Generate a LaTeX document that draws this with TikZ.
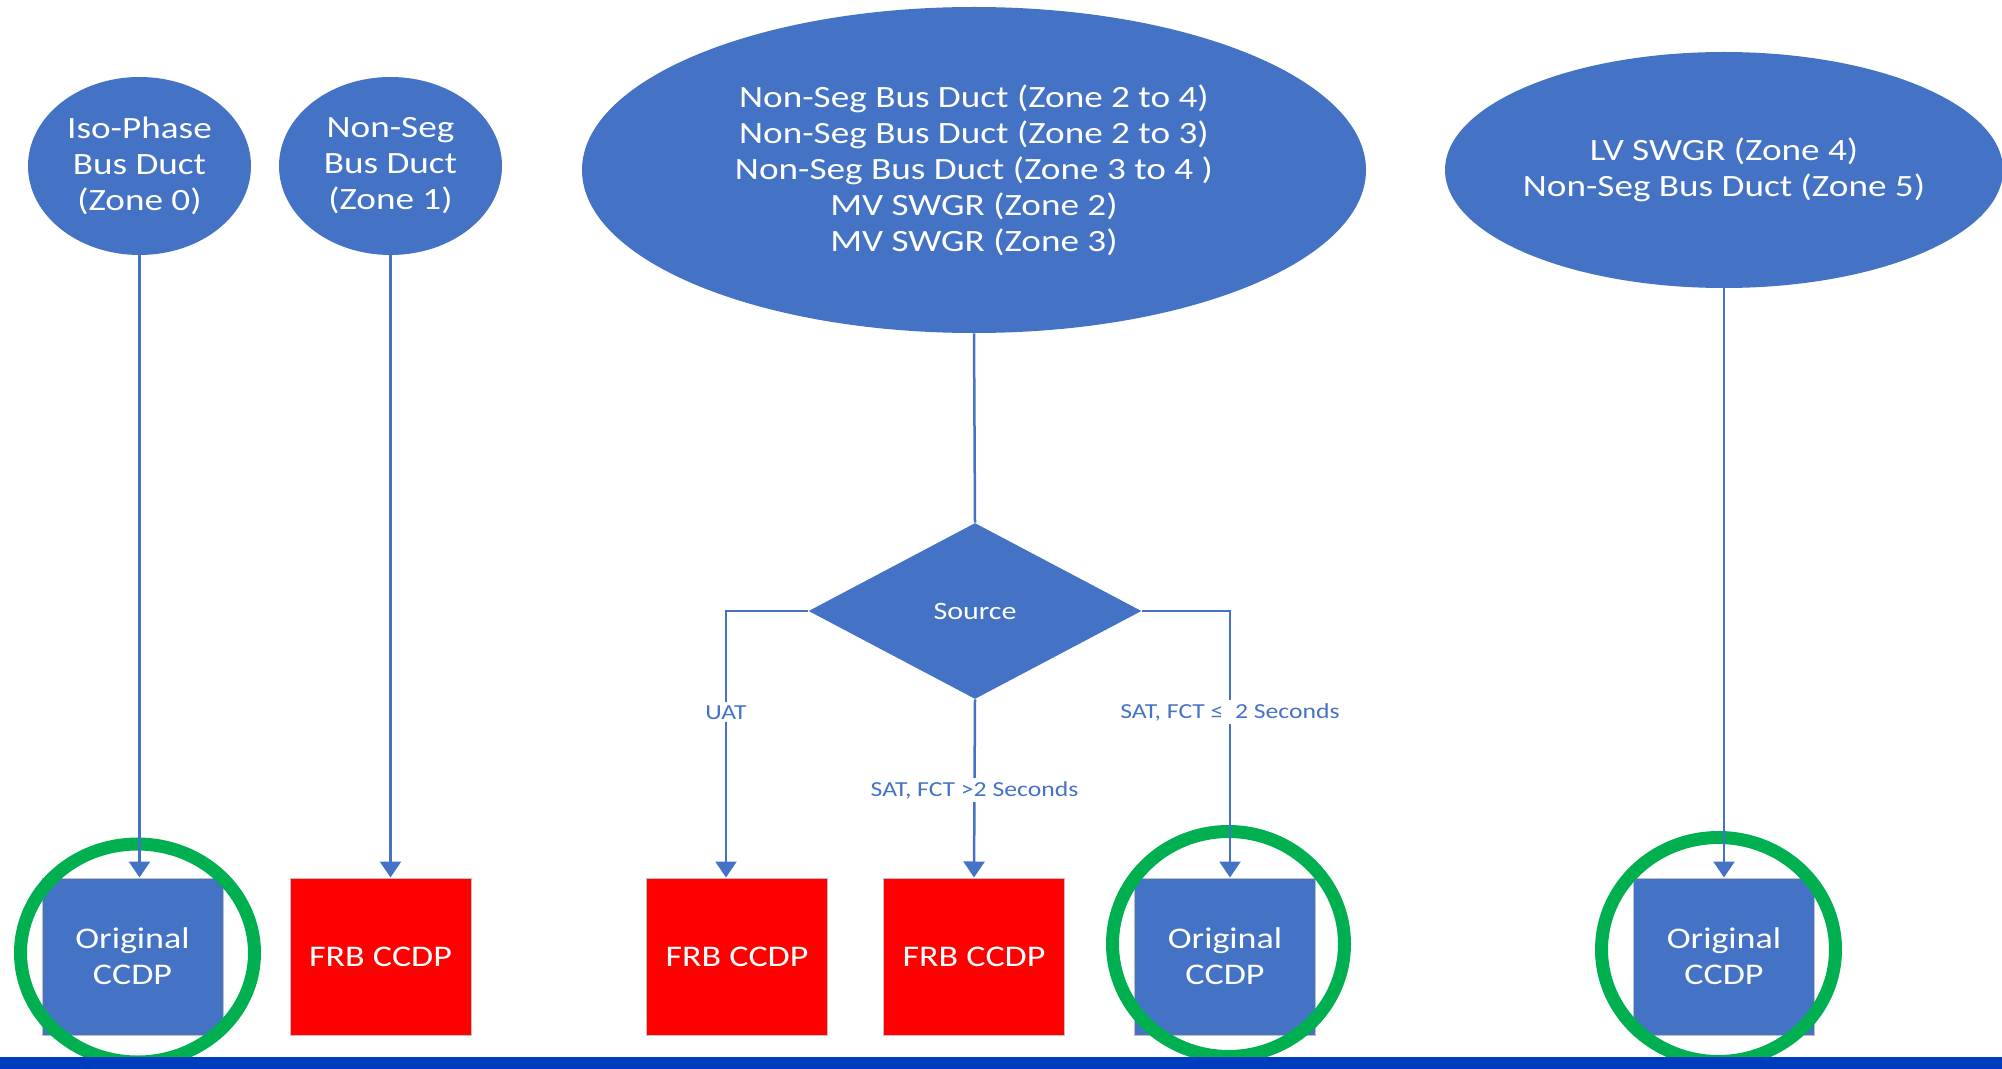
\documentclass[tikz,border=0pt]{standalone}
\usepackage{fontspec}
\setmainfont{Carlito}[FakeStretch=1.2]
\usetikzlibrary{shapes.geometric,arrows.meta}
\definecolor{zoneblue}{RGB}{68,114,196}
\definecolor{frbred}{RGB}{255,0,0}
\definecolor{okgreen}{RGB}{0,176,80}
\definecolor{barblue}{RGB}{0,60,190}
\tikzset{
 zone/.style={ellipse,fill=zoneblue,inner sep=0pt},
 zonetext/.style={text=white,align=center,font=\fontsize{15.5}{18}\selectfont},
 ccdp/.style={rectangle,fill=zoneblue,draw=black!25,line width=0.5pt,minimum width=90.5pt,minimum height=78.5pt,inner sep=0pt,text=white,align=center,font=\fontsize{15}{18}\selectfont},
 frb/.style={ccdp,fill=frbred},
 flow/.style={draw=zoneblue,line width=1.25pt},
 arr/.style={flow,-{Triangle[width=10.5pt,length=8pt]}},
 lbl/.style={fill=white,text=zoneblue,inner sep=1.5pt,font=\fontsize{10.7}{12}\selectfont},
 ring/.style={draw=okgreen,line width=6.5pt}
}
\begin{document}
\begin{tikzpicture}[x=0.5pt,y=-0.5pt]
 \useasboundingbox (0,0) rectangle (2002,1069);
 \node[zone,minimum width=111.5pt,minimum height=89pt,label={[zonetext]center:{Iso-Phase\\Bus Duct\\(Zone 0)}}] (iso) at (139.5,166) {};
 \node[zone,minimum width=111.5pt,minimum height=89pt,label={[zonetext]center:{Non-Seg\\Bus Duct\\(Zone 1)}}] (seg1) at (390.5,166) {};
 \node[zone,minimum width=392pt,minimum height=163pt,label={[zonetext]center:{Non-Seg Bus Duct (Zone 2 to 4)\\Non-Seg Bus Duct (Zone 2 to 3)\\Non-Seg Bus Duct (Zone 3 to 4 )\\MV SWGR (Zone 2)\\MV SWGR (Zone 3)}}] (mid) at (974,170) {};
 \node[zone,minimum width=279pt,minimum height=118pt,label={[zonetext]center:{LV SWGR (Zone 4)\\Non-Seg Bus Duct (Zone 5)}}] (lv) at (1724,170) {};
 \node[diamond,fill=zoneblue,aspect=1.89,minimum width=166.5pt,minimum height=88pt,inner sep=0pt,text=white,font=\fontsize{12.5}{15}\selectfont] (src) at (975,611) {Source};
 \node[ccdp] (b1) at (132.5,956.5) {Original\\CCDP};
 \node[frb] (b2) at (380.5,956.5) {FRB CCDP};
 \node[frb] (b3) at (737,956.5) {FRB CCDP};
 \node[frb] (b4) at (974,956.5) {FRB CCDP};
 \node[ccdp] (b5) at (1225,956.5) {Original\\CCDP};
 \node[ccdp] (b6) at (1724,956.5) {Original\\CCDP};
 \draw[ring] (137.5,953) ellipse [x radius=117,y radius=109];
 \draw[ring] (1228.5,944) ellipse [x radius=116,y radius=112.5];
 \draw[ring] (1718.5,949.5) ellipse [x radius=117,y radius=112];
 \draw[arr] (iso.south) -- (iso.south |- b1.north);
 \draw[arr] (seg1.south) -- (seg1.south |- b2.north);
 \draw[flow] (mid.south) -- (src.north);
 \draw[arr] (src.west) -| node[lbl,pos=0.69]{UAT} ([xshift=-5.5pt]b3.north);
 \draw[arr] (src.south) -- node[lbl,pos=0.51]{SAT, FCT >2 Seconds} (b4.north);
 \draw[arr] (src.east) -| node[lbl,pos=0.69]{SAT, FCT ≤~~2 Seconds} ([xshift=2.5pt]b5.north);
 \draw[arr] (lv.south) -- (lv.south |- b6.north);
 \fill[barblue] (0,1057) rectangle (2002,1069);
\end{tikzpicture}
\end{document}
